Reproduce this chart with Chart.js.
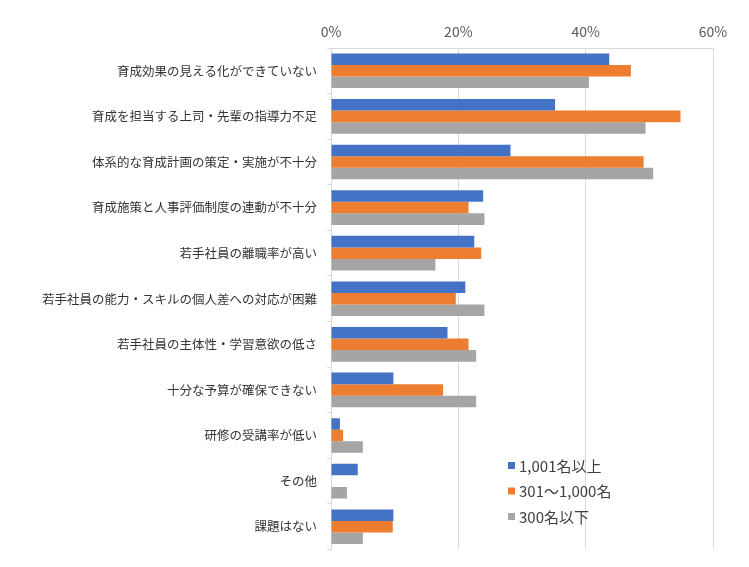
<!DOCTYPE html>
<html>
<head>
<meta charset="utf-8">
<script src="https://cdn.jsdelivr.net/npm/chart.js@4/dist/chart.umd.min.js"></script>
<style>
  html, body { margin: 0; padding: 0; background: #ffffff; }
  #wrap { width: 749px; height: 567px; }
</style>
</head>
<body>
<div id="wrap"><canvas id="chart"></canvas></div>
<script>
const categories = [
  "育成効果の見える化ができていない",
  "育成を担当する上司・先輩の指導力不足",
  "体系的な育成計画の策定・実施が不十分",
  "育成施策と人事評価制度の連動が不十分",
  "若手社員の離職率が高い",
  "若手社員の能力・スキルの個人差への対応が困難",
  "若手社員の主体性・学習意欲の低さ",
  "十分な予算が確保できない",
  "研修の受講率が低い",
  "その他",
  "課題はない"
];

const seriesNames = ["1,001名以上", "301～1,000名", "300名以下"];

const large = [43.7, 35.2, 28.2, 23.9, 22.5, 21.1, 18.3, 9.8, 1.4, 4.2, 9.8];
const medium = [47.1, 54.9, 49.1, 21.6, 23.6, 19.6, 21.6, 17.6, 1.9, 0, 9.7];
const small = [40.5, 49.4, 50.6, 24.1, 16.4, 24.1, 22.8, 22.8, 5.0, 2.5, 5.0];

const xTicks = [0, 20, 40, 60];

const colors = ["#4472C4", "#ED7D31", "#A5A5A5"];

// legend drawn inside the plot, like the original
const insideLegend = {
  id: "insideLegend",
  afterDraw(chart) {
    const ctx = chart.ctx;
    ctx.save();
    ctx.font = "15px 'Noto Sans CJK JP', sans-serif";
    ctx.textBaseline = "middle";
    chart.data.datasets.forEach((ds, i) => {
      const y = 466 + i * 25.5;
      ctx.fillStyle = ds.backgroundColor;
      ctx.fillRect(508, y - 4, 7, 7);
      ctx.fillStyle = "#404040";
      ctx.fillText(ds.label, 519, y);
    });
    ctx.restore();
  }
};

new Chart(document.getElementById("chart").getContext("2d"), {
  type: "bar",
  data: {
    labels: categories,
    datasets: [
      { label: seriesNames[0], data: large, backgroundColor: colors[0] },
      { label: seriesNames[1], data: medium, backgroundColor: colors[1] },
      { label: seriesNames[2], data: small, backgroundColor: colors[2] }
    ]
  },
  options: {
    indexAxis: "y",
    responsive: true,
    maintainAspectRatio: false,
    animation: false,
    layout: { padding: { left: 0, right: 36, top: 0, bottom: 15 } },
    datasets: {
      bar: { categoryPercentage: 0.76, barPercentage: 1.0 }
    },
    plugins: {
      legend: { display: false },
      tooltip: { enabled: false }
    },
    scales: {
      x: {
        position: "top",
        min: 0,
        max: 60,
        afterBuildTicks: scale => {
          scale.ticks = xTicks.map(v => ({ value: v }));
        },
        afterFit: scale => { scale.height = 48; },
        ticks: {
          color: "#595959",
          font: { size: 14, family: "'Noto Sans CJK JP', sans-serif" },
          padding: 8,
          callback: v => v + "%"
        },
        grid: { color: "#D9D9D9", drawTicks: false },
        border: { display: true, color: "#D9D9D9" }
      },
      y: {
        afterFit: scale => { scale.width = 331; },
        ticks: {
          color: "#333333",
          font: { size: 12.5, family: "'Noto Sans CJK JP', sans-serif" },
          padding: 10
        },
        grid: {
          display: true,
          drawOnChartArea: false,
          drawTicks: true,
          tickLength: 4,
          color: "#D9D9D9"
        },
        border: { display: true, color: "#D9D9D9" }
      }
    }
  },
  plugins: [insideLegend]
});
</script>
</body>
</html>
